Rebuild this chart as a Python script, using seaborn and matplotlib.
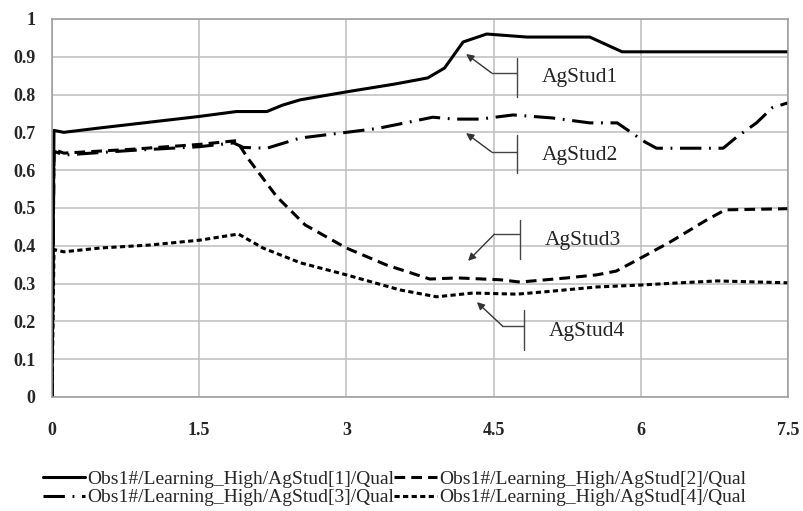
import numpy as np
import pandas as pd
import matplotlib
matplotlib.use("Agg")
import matplotlib.pyplot as plt
import seaborn as sns

# series
t1 = [0, 0.02, 0.12, 0.5, 1.0, 1.5, 1.88, 2.19, 2.35, 2.53, 3.0, 3.5, 3.83, 4.0, 4.19, 4.43, 4.84, 5.48, 5.81, 7.5]
s1 = [0, 0.705, 0.70, 0.712, 0.727, 0.742, 0.755, 0.755, 0.772, 0.786, 0.807, 0.828, 0.844, 0.87, 0.939, 0.96, 0.952, 0.952, 0.913, 0.913]

t2 = [0, 0.02, 0.12, 0.8, 1.5, 1.88, 2.0, 2.29, 2.58, 3.0, 3.41, 3.85, 4.13, 4.57, 4.77, 5.25, 5.55, 5.75, 5.96, 6.3, 6.67, 6.86, 7.5]
s2 = [0, 0.655, 0.645, 0.655, 0.668, 0.678, 0.63, 0.53, 0.455, 0.394, 0.349, 0.312, 0.315, 0.31, 0.304, 0.315, 0.323, 0.333, 0.362, 0.41, 0.468, 0.495, 0.498]

t3 = [0, 0.02, 0.12, 0.8, 1.5, 1.85, 1.95, 2.19, 2.53, 3.0, 3.31, 3.6, 3.88, 4.1, 4.36, 4.7, 5.1, 5.48, 5.76, 5.94, 6.04, 6.16, 6.84, 6.98, 7.18, 7.34, 7.5]
s3 = [0, 0.65, 0.64, 0.652, 0.662, 0.672, 0.66, 0.658, 0.685, 0.70, 0.71, 0.725, 0.74, 0.735, 0.735, 0.746, 0.738, 0.725, 0.725, 0.693, 0.675, 0.658, 0.658, 0.688, 0.725, 0.765, 0.778]

t4 = [0, 0.02, 0.12, 0.49, 1.0, 1.51, 1.9, 2.15, 2.53, 3.0, 3.55, 3.92, 4.29, 4.74, 5.1, 5.55, 5.99, 6.4, 6.78, 7.5]
s4 = [0, 0.39, 0.384, 0.394, 0.402, 0.415, 0.431, 0.394, 0.355, 0.323, 0.283, 0.265, 0.275, 0.272, 0.28, 0.291, 0.296, 0.302, 0.307, 0.302]

names = ['Obs1#/Learning_High/AgStud[1]/Qual', 'Obs1#/Learning_High/AgStud[2]/Qual',
         'Obs1#/Learning_High/AgStud[3]/Qual', 'Obs1#/Learning_High/AgStud[4]/Qual']
xticks = [0, 1.5, 3, 4.5, 6, 7.5]
xticklabels = ['0', '1.5', '3', '4.5', '6', '7.5']
yticks = [0, 0.1, 0.2, 0.3, 0.4, 0.5, 0.6, 0.7, 0.8, 0.9, 1]
yticklabels = ['0', '0.1', '0.2', '0.3', '0.4', '0.5', '0.6', '0.7', '0.8', '0.9', '1']

# annotation labels: text, arrow tip (x, y), elbow x, bar x, bar y range, elbow y, text y
notes = [
    ('AgStud1', (4.22, 0.907), 4.48, 4.74, (0.794, 0.897), 0.857, 0.844),
    ('AgStud2', (4.22, 0.698), 4.48, 4.74, (0.593, 0.693), 0.648, 0.640),
    ('AgStud3', (4.24, 0.360), 4.51, 4.77, (0.365, 0.468), 0.431, 0.413),
    ('AgStud4', (4.33, 0.251), 4.59, 4.81, (0.124, 0.230), 0.188, 0.172),
]

frames = []
for t, s, n in zip([t1, t2, t3, t4], [s1, s2, s3, s4], names):
    frames.append(pd.DataFrame({'t': t, 'v': s, 'series': n}))
df = pd.concat(frames, ignore_index=True)

sns.set_style("white")
plt.rcParams['font.family'] = ['Liberation Serif', 'DejaVu Serif']

fig = plt.figure(figsize=(8.04, 5.11), dpi=100)
ax = fig.add_axes([0.0647, 0.2231, 0.9153, 0.7399])

dashes = {names[0]: '', names[1]: (3.5, 2.0), names[2]: (7, 2.5, 0.6, 2.5), names[3]: (1.7, 1.1)}
sns.lineplot(data=df, x='t', y='v', hue='series', style='series',
             palette=['black'] * 4, dashes=dashes, estimator=None, sort=False,
             lw=2.2, ax=ax, legend=True)

grid_c = '#bdbdbd'
ax.set_xlim(0, 7.5)
ax.set_ylim(0, 1)
ax.set_xticks(xticks)
ax.set_xticklabels(xticklabels, fontsize=13, fontweight='bold')
ax.set_yticks(yticks)
ax.set_yticklabels(yticklabels, fontsize=13, fontweight='bold')
ax.grid(True, color=grid_c, lw=1.1)
ax.set_axisbelow(True)
for sp in ax.spines.values():
    sp.set_color('#9a9a9a')
    sp.set_linewidth(1.1)
ax.tick_params(axis='x', direction='out', length=4, width=1, color='#888888', pad=14)
ax.tick_params(axis='y', direction='out', length=4, width=1, color='#888888', pad=8)
ax.set_xlabel('')
ax.set_ylabel('')

for txt, tip, ex, bx, (by0, by1), hy, ty in notes:
    ax.plot([bx, bx], [by0, by1], color='#444444', lw=1)
    ax.plot([ex, bx], [hy, hy], color='#444444', lw=1)
    ax.annotate('', xy=tip, xytext=(ex, hy),
                arrowprops=dict(arrowstyle='-|>', color='#333333', lw=1, mutation_scale=11,
                                shrinkA=0, shrinkB=0))
    ax.text(bx + 0.25, ty, txt, fontsize=15.5, va='center', ha='left', color='#222222')

handles, labels = ax.get_legend_handles_labels()
ax.get_legend().remove()
order = [0, 2, 1, 3]  # matplotlib fills columns first; reference reads row by row
fig.legend([handles[i] for i in order], [labels[i] for i in order],
           loc='upper left', bbox_to_anchor=(0.053, 0.08), ncol=2,
           frameon=False, fontsize=14, handlelength=2.2, handletextpad=0.1,
           columnspacing=0.0, labelspacing=0.05, borderaxespad=0, borderpad=0)

fig.savefig('out.png', dpi=100)
